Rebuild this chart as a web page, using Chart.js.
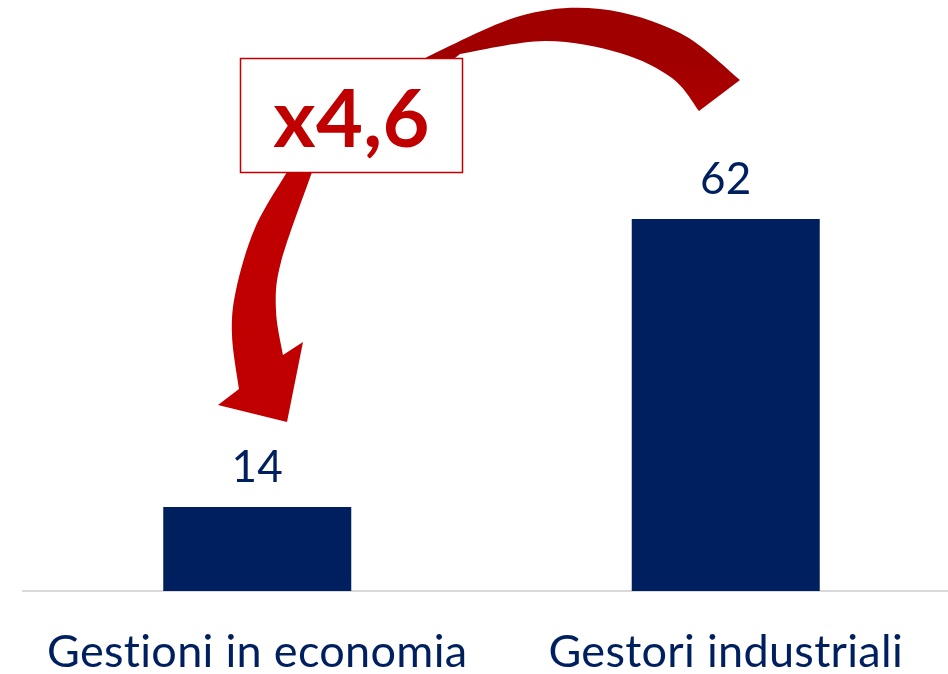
<!DOCTYPE html>
<html>
<head>
<meta charset="utf-8">
<script src="https://cdn.jsdelivr.net/npm/chart.js@4/dist/chart.umd.min.js"></script>
<style>
  html, body { margin: 0; padding: 0; background: #ffffff; overflow: hidden; }
  #wrap { width: 960px; height: 674px; }
</style>
</head>
<body>
<div id="wrap"><canvas id="c" width="960" height="674"></canvas></div>
<script>
// ---- data ----
const categories = ["Gestioni in economia", "Gestori industriali"];
const values = [14, 62];
const valueLabels = ["14", "62"];
const ratioLabel = "x4,6";

const NAVY = "#001F5F";
const RED = "#C00000";
const DARKRED = "#A00000";

function smoothThrough(ctx, pts, moveFirst) {
  if (moveFirst) ctx.moveTo(pts[0][0], pts[0][1]); else ctx.lineTo(pts[0][0], pts[0][1]);
  for (let i = 0; i < pts.length - 1; i++) {
    const p0 = pts[i - 1] || pts[i];
    const p1 = pts[i];
    const p2 = pts[i + 1];
    const p3 = pts[i + 2] || pts[i + 1];
    const c1x = p1[0] + (p2[0] - p0[0]) / 6, c1y = p1[1] + (p2[1] - p0[1]) / 6;
    const c2x = p2[0] - (p3[0] - p1[0]) / 6, c2y = p2[1] - (p3[1] - p1[1]) / 6;
    ctx.bezierCurveTo(c1x, c1y, c2x, c2y, p2[0], p2[1]);
  }
}

const spacingPlugin = {
  id: "noLigatures",
  beforeDraw(chart) {
    try { chart.ctx.letterSpacing = "0.3px"; } catch (e) {}
  }
};

const labelsPlugin = {
  id: "valueLabels",
  afterDatasetsDraw(chart) {
    const ctx = chart.ctx;
    const meta = chart.getDatasetMeta(0);
    ctx.save();
    ctx.fillStyle = NAVY;
    ctx.font = "44px Lato";
    ctx.textAlign = "center";
    ctx.textBaseline = "alphabetic";
    meta.data.forEach((bar, i) => {
      ctx.fillText(valueLabels[i], bar.x, bar.y - 25);
    });
    ctx.restore();
  }
};

const arrowPlugin = {
  id: "ratioArrow",
  afterDraw(chart) {
    const ctx = chart.ctx;
    ctx.save();
    const g = ctx.createLinearGradient(0, 0, 0, 430);
    g.addColorStop(0, DARKRED);
    g.addColorStop(0.14, DARKRED);
    g.addColorStop(0.40, RED);
    g.addColorStop(1, RED);
    ctx.fillStyle = g;
    ctx.beginPath();
    smoothThrough(ctx, [[740, 80], [680, 33], [600, 9], [520, 16], [427, 57]], true);
    smoothThrough(ctx, [[287, 172], [255, 228], [236, 290], [232, 335], [239, 389]], false);
    ctx.lineTo(218, 405);
    ctx.lineTo(287, 422);
    ctx.lineTo(303, 342);
    smoothThrough(ctx, [[283, 355], [276, 310], [281, 262], [312, 172]], false);
    smoothThrough(ctx, [[460, 54], [545, 41], [620, 53], [672, 78], [699, 111]], false);
    ctx.closePath();
    ctx.fill();

    // box
    ctx.fillStyle = "#ffffff";
    ctx.fillRect(240, 58, 223, 115);
    ctx.strokeStyle = RED;
    ctx.lineWidth = 1.5;
    ctx.strokeRect(240.5, 58.5, 222, 114);
    ctx.fillStyle = RED;
    ctx.font = "bold 81px Lato";
    ctx.textAlign = "center";
    ctx.textBaseline = "alphabetic";
    ctx.fillText(ratioLabel, 351.5, 147);
    ctx.restore();
  }
};

new Chart(document.getElementById("c"), {
  type: "bar",
  data: {
    labels: categories,
    datasets: [{
      data: values,
      backgroundColor: NAVY,
      borderWidth: 0,
      barPercentage: 0.4013,
      categoryPercentage: 1.0
    }]
  },
  options: {
    responsive: false,
    devicePixelRatio: 1,
    animation: false,
    layout: { padding: { left: 23, right: 0, top: 21, bottom: 0 } },
    plugins: { legend: { display: false }, tooltip: { enabled: false } },
    scales: {
      y: { display: false, min: 0, max: 95 },
      x: {
        grid: { display: false, drawTicks: false },
        border: { display: true, color: "#D9D9D9", width: 2 },
        afterFit(scale) { scale.height = 83; },
        ticks: {
          color: NAVY,
          padding: 39,
          font: { family: "Lato", size: 45, lineHeight: 1 }
        }
      }
    }
  },
  plugins: [spacingPlugin, labelsPlugin, arrowPlugin]
});
</script>
</body>
</html>
